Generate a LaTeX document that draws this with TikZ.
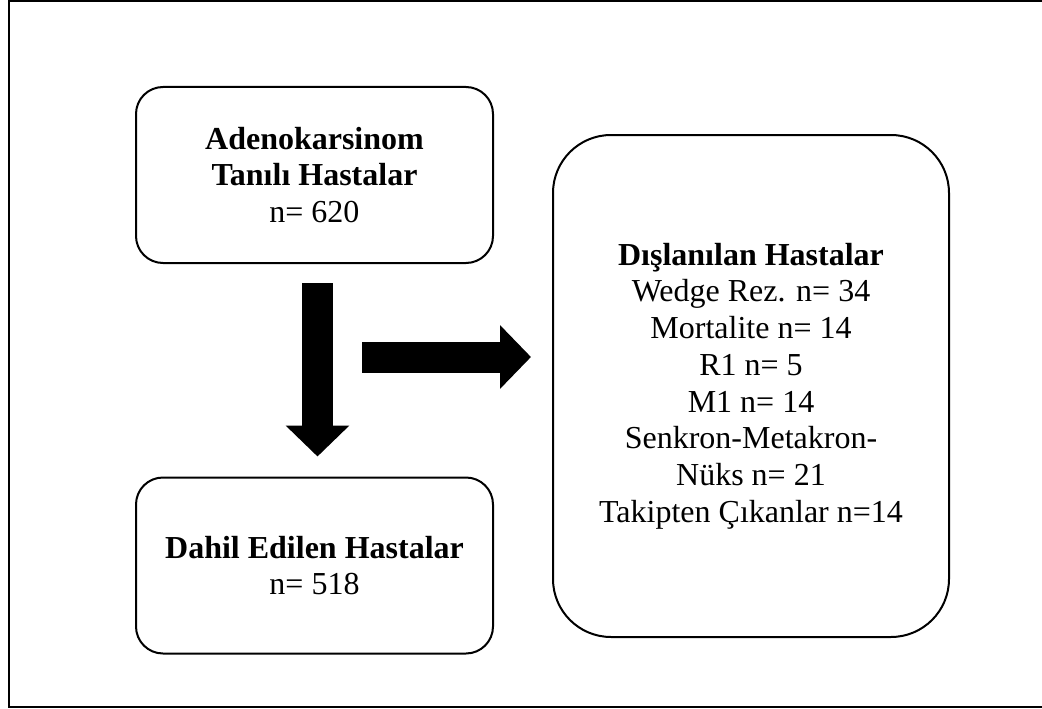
\documentclass[tikz,border=0pt]{standalone}
\usepackage{fontspec}
\setmainfont{Liberation Serif}
\usetikzlibrary{arrows.meta,calc}
\begin{document}
\begin{tikzpicture}[x=1pt,y=-1pt,
  box/.style={draw=black,line width=2pt,rounded corners=27pt,align=center,inner sep=0pt,
    minimum width=357pt,minimum height=176pt,font=\fontsize{32}{36.7}\selectfont},
  bigbox/.style={box,rounded corners=58pt,minimum width=396pt,minimum height=502pt},
  blockarrow/.style={line width=31pt,-{Triangle[length=31pt,width=62pt]}}]
\useasboundingbox (0,0) rectangle (1042,709);
\clip (0,0) rectangle (1042,709);
\draw[line width=2.5pt] (1060,1.2) -- (9.2,1.2) -- (9.2,706.8) -- (1060,706.8);
\node[box] (b1) at (314.5,175) {\textbf{Adenokarsinom}\\\textbf{Tanılı Hastalar}\\n= 620};
\node[box] (b2) at (314.5,565.5) {\textbf{Dahil Edilen Hastalar}\\n= 518};
\node[bigbox] (b3) at (751,386) {\textbf{Dışlanılan Hastalar}\\Wedge Rez. n= 34\\Mortalite n= 14\\R1 n= 5\\M1 n= 14\\Senkron-Metakron-\\Nüks n= 21\\Takipten Çıkanlar n=14};
\draw[blockarrow] ($(b1.south)+(3,19)$) -- ($(b2.north)+(3,-20)$);
\coordinate (hs) at (362,357);
\draw[blockarrow] (hs) -- ($(b3.west |- hs)+(-21,0)$);
\end{tikzpicture}
\end{document}
